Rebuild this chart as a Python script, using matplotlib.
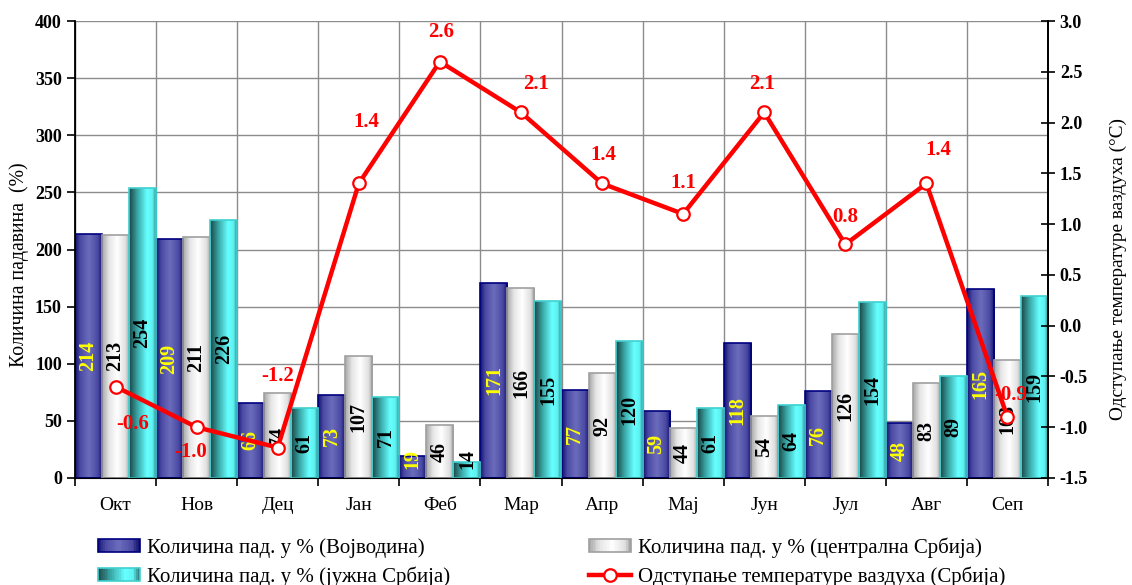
import numpy as np
import matplotlib
matplotlib.use('Agg')
import matplotlib.pyplot as plt
from matplotlib.colors import LinearSegmentedColormap
from matplotlib.patches import Rectangle
from matplotlib.lines import Line2D
from matplotlib.legend_handler import HandlerBase

plt.rcParams['font.family'] = ['Liberation Serif', 'DejaVu Serif']

# Months (October - September)
months = ['Окт', 'Нов', 'Дец', 'Јан', 'Феб', 'Мар', 'Апр', 'Мај', 'Јун', 'Јул', 'Авг', 'Сеп']

# Precipitation in % of normal
vojvodina = [214, 209, 66, 73, 19, 171, 77, 59, 118, 76, 48, 165]
central = [213, 211, 74, 107, 46, 166, 92, 44, 54, 126, 83, 103]
south = [254, 226, 61, 71, 14, 155, 120, 61, 64, 154, 89, 159]

# Air temperature deviation (°C)
temp_dev = [-0.6, -1.0, -1.2, 1.4, 2.6, 2.1, 1.4, 1.1, 2.1, 0.8, 1.4, -0.9]

series_names = ['Количина пад. у % (Војводина)',
                'Количина пад. у % (централна Србија)',
                'Количина пад. у % (јужна Србија)']
line_name = 'Одступање температуре ваздуха (Србија)'

# label offsets for the temperature values, in pixels
temp_offsets = [(17, -37), (-6, -25), (0, 72), (8, 61), (1, 30), (15, 28),
                (1, 28), (0, 31), (-2, 28), (0, 27), (12, 33), (3, 22)]

cm_blue = LinearSegmentedColormap.from_list(
    'blue', [(0, '#12126e'), (0.18, '#4a4aa4'), (0.5, '#6c6cbc'), (0.82, '#4a4aa4'), (1, '#10106a')])
cm_white = LinearSegmentedColormap.from_list(
    'white', [(0, '#a8a8a8'), (0.25, '#e6e6e6'), (0.55, '#ffffff'), (0.85, '#e0e0e0'), (1, '#9c9c9c')])
cm_cyan = LinearSegmentedColormap.from_list(
    'cyan', [(0, '#1c4444'), (0.3, '#3aa6a6'), (0.65, '#66ffff'), (0.85, '#5ef2f2'), (1, '#2c7474')])

styles = [(cm_blue, '#000080', '#ffff00'),
          (cm_white, '#a0a0a0', 'black'),
          (cm_cyan, '#40d0d0', 'black')]

W, H = 1132, 585
fig = plt.figure(figsize=(W / 100, H / 100), dpi=100)
ax = fig.add_axes([75 / W, 1 - 478 / H, (1048 - 75) / W, (478 - 21) / H])

x = np.arange(len(months))
w = 1 / 3
grad = np.linspace(0, 1, 64)[np.newaxis, :]

for k, vals in enumerate([vojvodina, central, south]):
    cmap, edge, lab_col = styles[k]
    bars = ax.bar(x + (k - 1) * w, vals, width=w, facecolor='none',
                  edgecolor=edge, linewidth=1.2, zorder=3)
    for b, v in zip(bars, vals):
        x0 = b.get_x()
        im = ax.imshow(grad, extent=(x0, x0 + w, 0, v), aspect='auto',
                       cmap=cmap, zorder=2, interpolation='bilinear')
        im.set_clip_path(b)
        ax.text(x0 + w / 2, max(v / 2, 17), str(v), rotation=90, ha='center', va='center',
                fontsize=14.5, fontweight='bold', color=lab_col, zorder=4)

ax.set_xlim(-0.5, len(months) - 0.5)
ax.set_ylim(0, 400)
ax.set_yticks(np.arange(0, 401, 50))
ax.set_xticks(np.arange(len(months) + 1) - 0.5)
ax.set_xticklabels([])
ax.set_xticks(x, minor=True)
ax.set_xticklabels(months, minor=True, fontsize=14)
ax.tick_params(axis='x', which='major', direction='out', length=6, width=1.2)
ax.tick_params(axis='x', which='minor', length=0, pad=14)
ax.tick_params(axis='y', direction='out', length=6, width=1.2, labelsize=13)
for t in ax.get_yticklabels():
    t.set_fontweight('bold')
ax.grid(True, which='major', color='#8c8c8c', linewidth=1)
ax.set_axisbelow(True)
ax.spines['top'].set_visible(False)
for s in ['left', 'bottom', 'right']:
    ax.spines[s].set_linewidth(1.3)

ax2 = ax.twinx()
ax2.plot(x, temp_dev, color='red', linewidth=3.2, marker='o', markersize=9,
         markerfacecolor='white', markeredgecolor='red', markeredgewidth=1.6, zorder=5)
for xi, t, (dx, dy) in zip(x, temp_dev, temp_offsets):
    ax2.annotate(f'{t:.1f}', (xi, t), xytext=(dx, dy), textcoords='offset pixels',
                 ha='center', va='center', color='red', fontsize=15, fontweight='bold')
ax2.set_ylim(-1.5, 3.0)
ax2.set_yticks(np.arange(-1.5, 3.01, 0.5))
ax2.set_yticklabels([f'{v:.1f}' for v in np.arange(-1.5, 3.01, 0.5)])
ax2.tick_params(axis='y', direction='inout', length=10, width=1.2, labelsize=13)
for t in ax2.get_yticklabels():
    t.set_fontweight('bold')
ax2.spines['top'].set_visible(False)
ax2.spines['right'].set_linewidth(1.3)

# axis titles
fig.text(19 / W, 1 - 265 / H, 'Количина падавина  (%)', rotation=90,
         ha='center', va='center', fontsize=14.2)
fig.text(1118 / W, 1 - 269 / H, 'Одступање температуре ваздуха (°C)', rotation=90,
         ha='center', va='center', fontsize=13.9)


class GradientHandler(HandlerBase):
    def __init__(self, cmap, edge):
        super().__init__()
        self.cmap = cmap
        self.edge = edge

    def create_artists(self, legend, orig_handle, xdescent, ydescent, width, height, fontsize, trans):
        n = 24
        arts = []
        for i in range(n):
            arts.append(Rectangle((-xdescent + i * width / n, -ydescent), width / n, height,
                                  facecolor=self.cmap((i + 0.5) / n), edgecolor='none', transform=trans))
        arts.append(Rectangle((-xdescent, -ydescent), width, height, facecolor='none',
                              edgecolor=self.edge, linewidth=1.2, transform=trans))
        return arts


h_blue, h_white, h_cyan = Rectangle((0, 0), 1, 1), Rectangle((0, 0), 1, 1), Rectangle((0, 0), 1, 1)
h_line = Line2D([], [], color='red', linewidth=3.2, marker='o', markersize=9,
                markerfacecolor='white', markeredgecolor='red', markeredgewidth=1.6)
fig.legend([h_blue, h_cyan, h_white, h_line],
           [series_names[0], series_names[2], series_names[1], line_name],
           handler_map={h_blue: GradientHandler(cm_blue, '#000080'),
                        h_white: GradientHandler(cm_white, '#a0a0a0'),
                        h_cyan: GradientHandler(cm_cyan, '#40d0d0')},
           ncol=2, loc='upper left', bbox_to_anchor=(98 / W, 1 - 537 / H),
           frameon=False, fontsize=15, handlelength=2.0, handleheight=0.6,
           handletextpad=0.34, columnspacing=6.7, labelspacing=0.42, borderpad=0,
           borderaxespad=0)

fig.savefig('out.png', dpi=100)
